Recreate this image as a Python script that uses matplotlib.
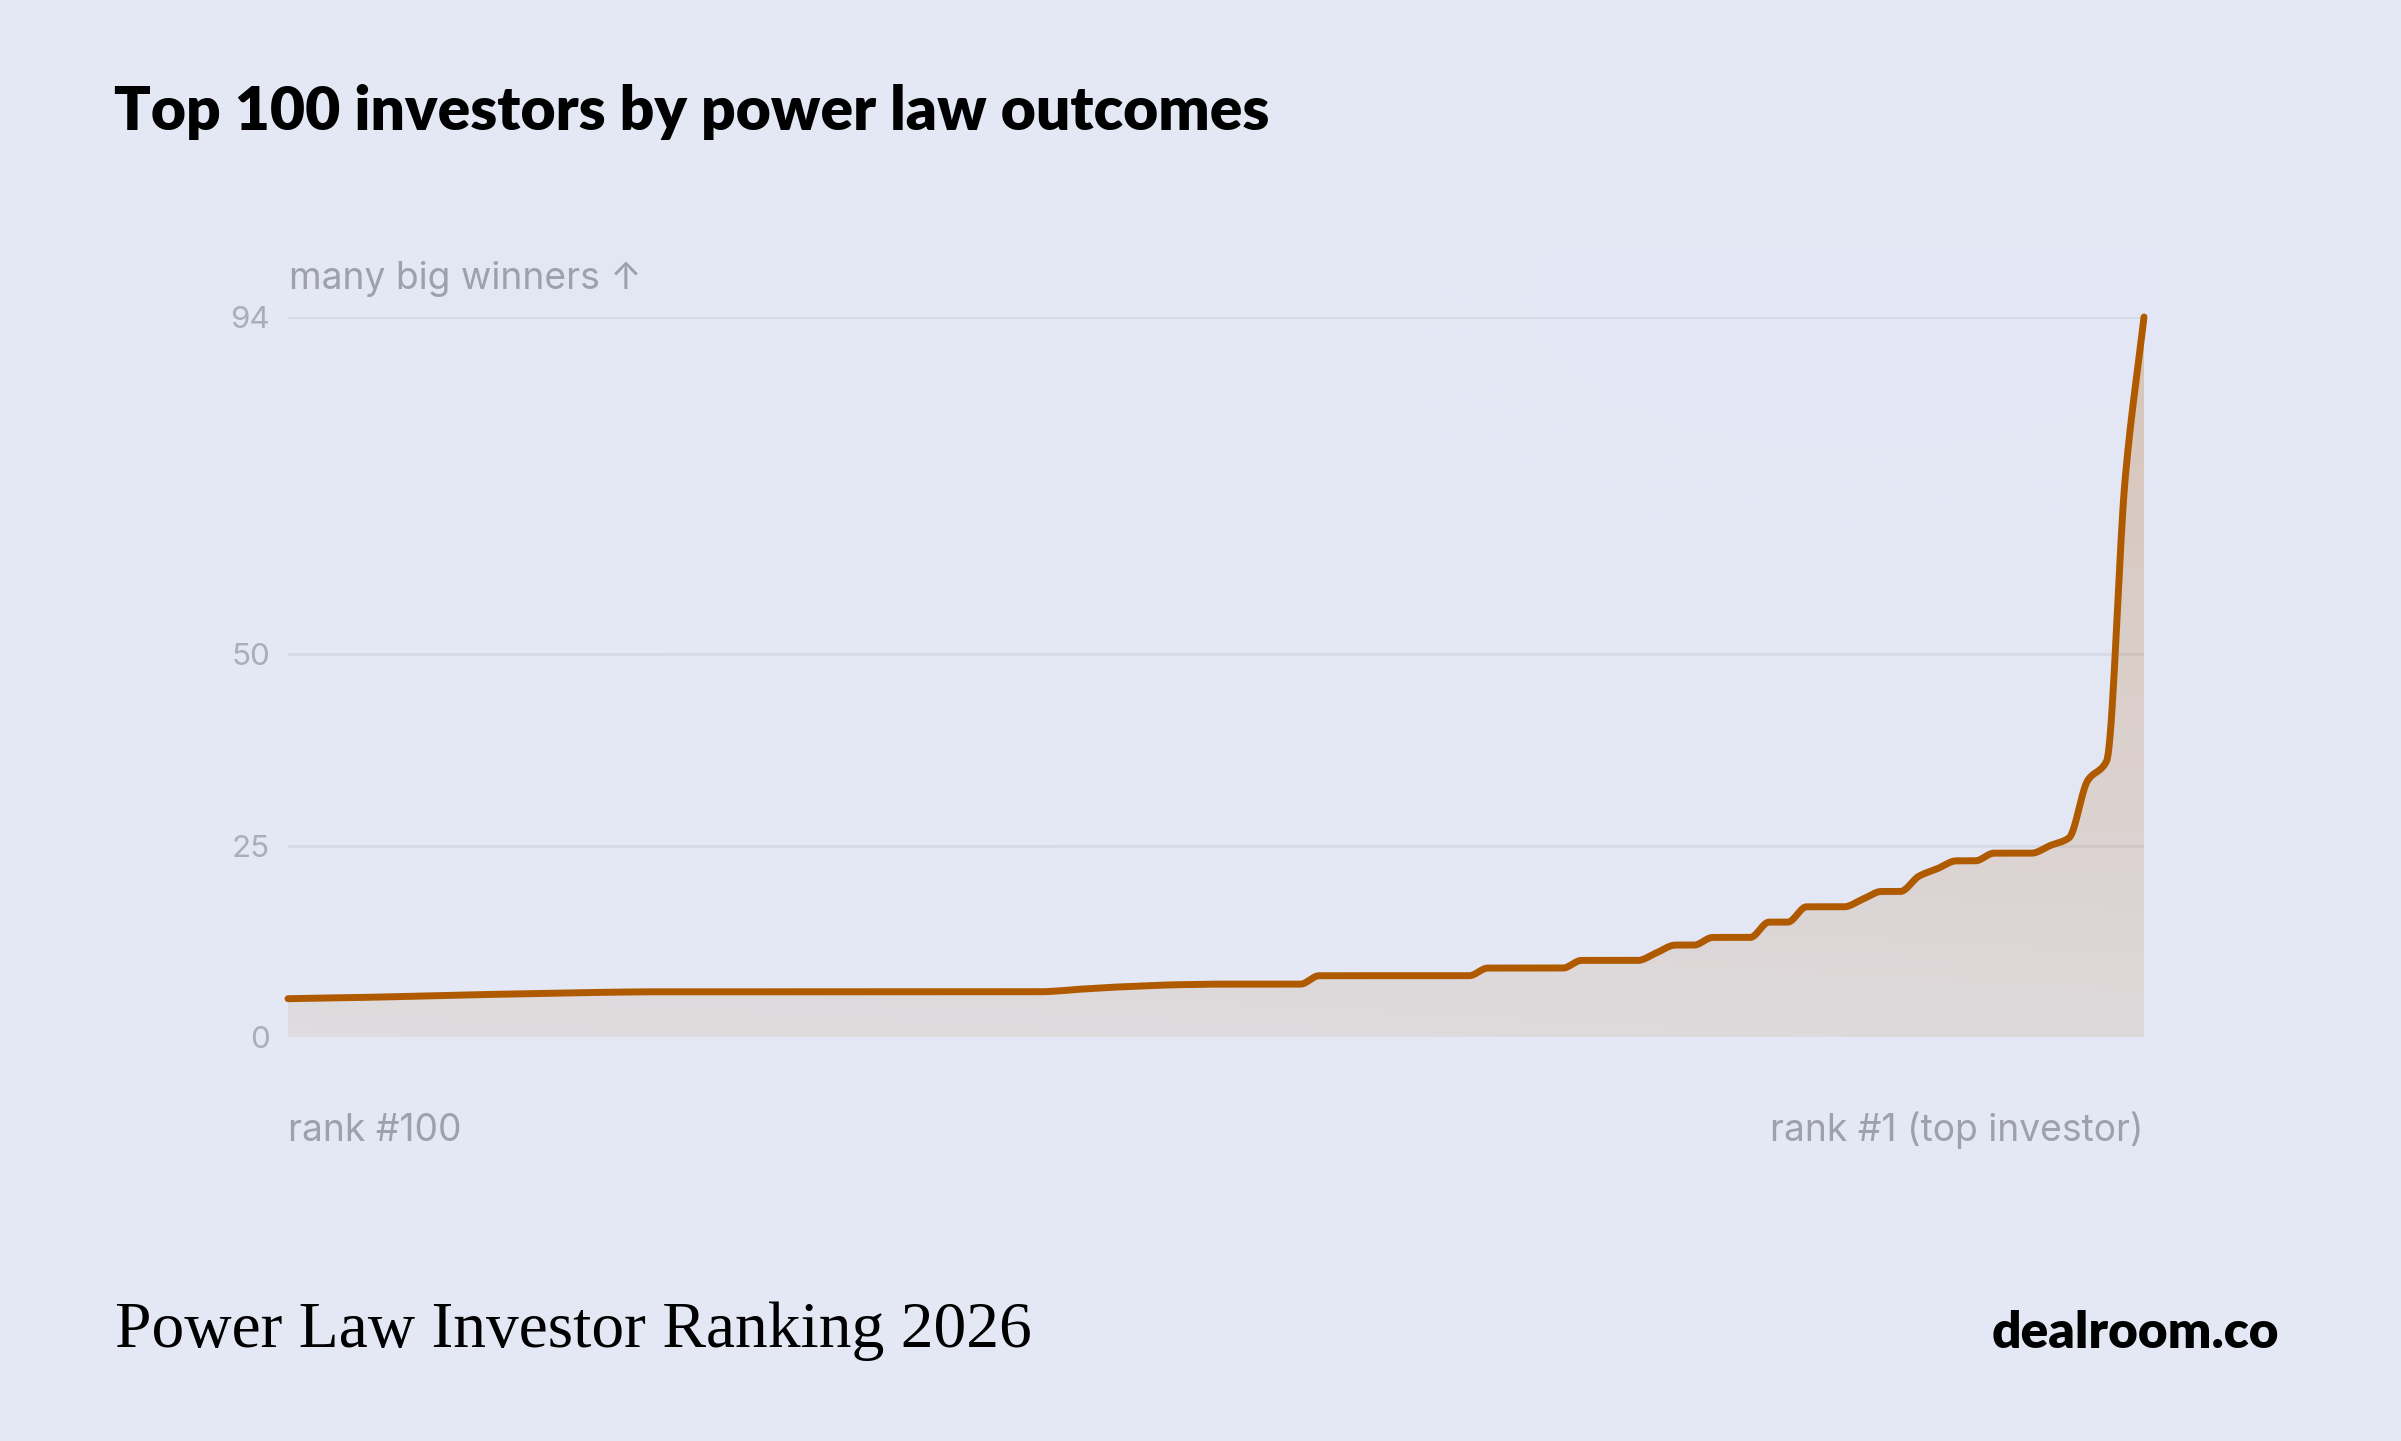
import numpy as np
import matplotlib
matplotlib.use("Agg")
import matplotlib.pyplot as plt
from matplotlib.colors import to_rgb

# ---------------- data ----------------
ranks = list(range(100, 0, -1))          # left = rank #100, right = rank #1
scores = [5.0, 5.05, 5.1, 5.13, 5.17, 5.22, 5.28, 5.34, 5.4, 5.46,
          5.52, 5.57, 5.62, 5.67, 5.72, 5.76, 5.8, 5.84, 5.87, 5.9,
          5.9, 5.9, 5.9, 5.9, 5.9, 5.9, 5.9, 5.9, 5.9, 5.9,
          5.9, 5.9, 5.9, 5.9, 5.9, 5.9, 5.9, 5.9, 5.9, 5.9,
          5.9, 6.0, 6.2, 6.35, 6.5, 6.6, 6.7, 6.8, 6.85, 6.9,
          6.9, 6.9, 6.9, 6.9, 6.9, 8.0, 8.0, 8.0, 8.0, 8.0,
          8.0, 8.0, 8.0, 8.0, 9.0, 9.0, 9.0, 9.0, 9.0, 10.0,
          10.0, 10.0, 10.0, 11.0, 12.0, 12.0, 13.0, 13.0, 13.0, 15.0,
          15.0, 17.0, 17.0, 17.0, 18.0, 19.0, 19.0, 21.0, 22.0, 23.0,
          23.0, 24.0, 24.0, 24.0, 25.0, 26.0, 33.5, 36.0, 73.0, 94.0]
y_ticks = [0, 25, 50, 94]
title = "Top 100 investors by power law outcomes"
footer = "Power Law Investor Ranking 2026"
brand = "dealroom.co"
y_label = "many big winners \u2191"
x_left_label = "rank #100"
x_right_label = "rank #1 (top investor)"

# ---------------- style ----------------
BG = "#E3E8F4"
LINE = "#B05A00"
GRID = "#D6DAE6"
TICK = "#ABAEBA"
LABEL = "#9EA0AC"

W, H = 2401, 1441
DPI = 200


def fx(x):
    return x / W


def fy(y):
    return 1 - y / H


def pchip(x, y, xs):
    x = np.asarray(x, float)
    y = np.asarray(y, float)
    h = np.diff(x)
    d = np.diff(y) / h
    m = np.zeros_like(y)
    for k in range(1, len(y) - 1):
        if d[k - 1] * d[k] > 0:
            w1 = 2 * h[k] + h[k - 1]
            w2 = h[k] + 2 * h[k - 1]
            m[k] = (w1 + w2) / (w1 / d[k - 1] + w2 / d[k])
    m[0] = d[0]
    m[-1] = d[-1]
    idx = np.clip(np.searchsorted(x, xs, side="right") - 1, 0, len(h) - 1)
    t = (xs - x[idx]) / h[idx]
    h00 = 2 * t**3 - 3 * t**2 + 1
    h10 = t**3 - 2 * t**2 + t
    h01 = -2 * t**3 + 3 * t**2
    h11 = t**3 - t**2
    return (h00 * y[idx] + h10 * h[idx] * m[idx]
            + h01 * y[idx + 1] + h11 * h[idx] * m[idx + 1])


fig = plt.figure(figsize=(W / DPI, H / DPI), dpi=DPI)
fig.patch.set_facecolor(BG)

# subtle glow panel behind plot
gx0, gx1, gy0, gy1 = 170, 2160, 253, 1040
gax = fig.add_axes([fx(gx0), fy(gy1), fx(gx1 - gx0), (gy1 - gy0) / H])
gax.set_axis_off()
nx, ny = 400, 160
X, Y = np.meshgrid(np.linspace(0, 1, nx), np.linspace(0, 1, ny))
r = np.sqrt(((X - 0.85) / 0.75) ** 2 + ((Y - 0.05) / 0.9) ** 2)
a = np.clip(1 - r, 0, 1) ** 1.6 * 0.5
img = np.zeros((ny, nx, 4))
img[..., :3] = np.array([229, 229, 247]) / 255
img[..., 3] = a
gax.imshow(img, extent=[0, 1, 1, 0], aspect="auto", interpolation="bilinear")
gax.set_xlim(0, 1)
gax.set_ylim(1, 0)

# main axes
ax0, ax1, ay0, ay1 = 288, 2144, 317, 1037
ax = fig.add_axes([fx(ax0), fy(ay1), fx(ax1 - ax0), (ay1 - ay0) / H])
ax.patch.set_alpha(0)
x = np.arange(len(scores))
ax.set_xlim(0, len(scores) - 1)
ax.set_ylim(0, 94)
for s in ax.spines.values():
    s.set_visible(False)
ax.set_xticks([])
ax.set_yticks(y_ticks)
ax.set_yticklabels([str(v) for v in y_ticks], family=["Inter", "DejaVu Sans"],
                   fontsize=11.3, color=TICK)
ax.tick_params(axis="y", length=0, pad=6.5)

for v in y_ticks:
    if v > 0:
        ax.axhline(v, color=GRID, lw=1.0, zorder=1)

xs = np.linspace(0, len(scores) - 1, 3000)
ys = pchip(x, scores, xs)

# gradient fill under curve
poly = ax.fill_between(xs, 0, ys, facecolor="none", edgecolor="none", zorder=2)
gy = np.linspace(0, 94, 300)[:, None] * np.ones((1, 50))
gxv = np.ones((300, 1)) * np.linspace(0, 1, 50)[None, :]
fill = np.zeros((300, 50, 4))
fill[..., :3] = to_rgb(LINE)
fill[..., 3] = 0.085 + 0.14 * (gy / 94) + 0.02 * gxv
im = ax.imshow(fill, extent=[0, len(scores) - 1, 0, 94], origin="lower",
               aspect="auto", zorder=2, interpolation="bilinear")
im.set_clip_path(poly.get_paths()[0], transform=ax.transData)

ax.plot(xs, ys, color=LINE, lw=2.5, solid_capstyle="round", zorder=3, clip_on=False)

# texts
fig.text(fx(114), fy(130), title, family=["Lato", "DejaVu Sans"], fontweight="heavy",
         fontsize=21.85, color="#000000", ha="left", va="baseline")
fig.text(fx(289), fy(289), y_label, family=["Inter", "DejaVu Sans"], fontsize=13.4,
         color=LABEL, ha="left", va="baseline")
fig.text(fx(288), fy(1141), x_left_label, family=["Inter", "DejaVu Sans"], fontsize=13.4,
         color=LABEL, ha="left", va="baseline")
fig.text(fx(2144), fy(1141), x_right_label, family=["Inter", "DejaVu Sans"], fontsize=13.4,
         color=LABEL, ha="right", va="baseline")
fig.text(fx(115), fy(1347), footer, family=["Liberation Serif", "DejaVu Serif"],
         fontsize=23.6, color="#000000", ha="left", va="baseline")
fig.text(fx(2279), fy(1348), brand, family=["Lato", "DejaVu Sans"], fontweight="heavy",
         fontsize=18.5, color="#000000", ha="right", va="baseline")

fig.savefig("out.png", dpi=DPI, facecolor=BG)
